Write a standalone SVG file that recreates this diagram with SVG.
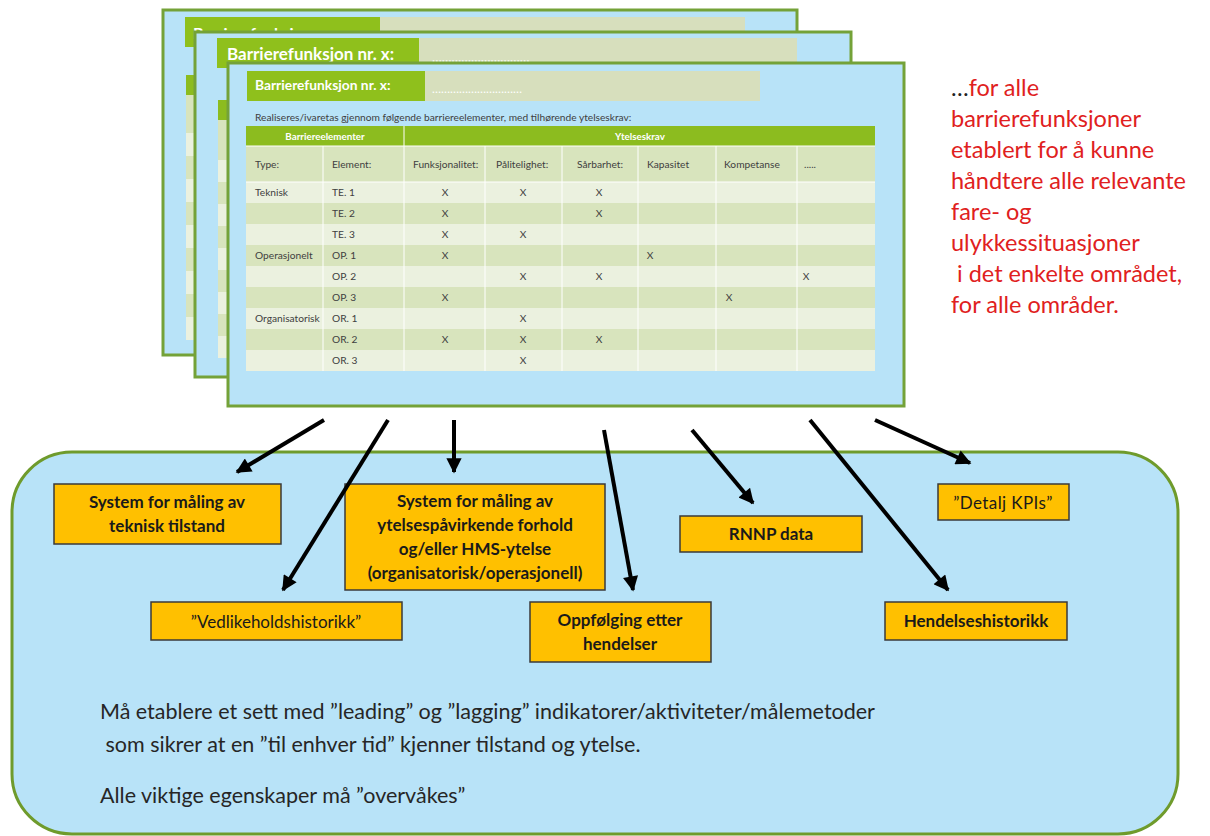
<svg xmlns="http://www.w3.org/2000/svg" width="1210" height="836" viewBox="0 0 1210 836">
<defs>
<marker id="ah" viewBox="0 0 10 10" refX="9" refY="5" markerWidth="4.2" markerHeight="3.8" orient="auto" markerUnits="strokeWidth">
<path d="M0,0 L10,5 L0,10 z" fill="#000"/>
</marker>
<style>
.card{fill:#b8e3f8;stroke:#74a238;stroke-width:3}
.tg{fill:#8fc01c}
.tk{fill:#d7dfbd}
.ttl{font-family:Lato,"Liberation Sans",sans-serif;font-weight:bold;fill:#fff}
.dots{font-family:Lato,"Liberation Sans",sans-serif;fill:#fff}
.hg{fill:#8cbc1f}
.rd{fill:#d8e4bd}
.rl{fill:#ebf1df}
.grid{stroke:#fff;stroke-width:1}
.tt{font-family:Lato,"Liberation Sans",sans-serif;font-size:10.2px;fill:#404040}
.th{font-family:Lato,"Liberation Sans",sans-serif;font-size:9.8px;font-weight:bold;fill:#fff;text-anchor:middle}
.x{text-anchor:middle}
.big{fill:#b8e3f8;stroke:#6f9b2c;stroke-width:3}
.ob{fill:#ffc000;stroke:#3a3a3a;stroke-width:1.5}
.ot{font-family:Lato,"Liberation Sans",sans-serif;font-size:17px;font-weight:bold;fill:#1a1a1a;text-anchor:middle}
.on{font-weight:normal}
.red{font-family:Lato,"Liberation Sans",sans-serif;font-size:23.5px;fill:#e02020}
.bt{font-family:Lato,"Liberation Sans",sans-serif;font-size:21.5px;fill:#262626}
.ar{stroke:#000;stroke-width:4;fill:none;marker-end:url(#ah)}
</style>
</defs>
<rect width="1210" height="836" fill="#fff"/>

<g id="card1">
<rect class="card" x="163" y="10" width="634" height="345"/>
<rect class="tg" x="185" y="17" width="195" height="30"/>
<rect class="tk" x="380" y="17" width="365" height="30"/>
<text class="ttl" x="193" y="39" font-size="16">Barrierefunksjon nr. x:</text>
<rect class="hg" x="186" y="75" width="590" height="20"/>
<rect class="rd" x="186" y="95" width="590" height="38"/>
<rect class="rl" x="186" y="133" width="590" height="23"/>
<rect class="rd" x="186" y="156" width="590" height="23"/>
<rect class="rl" x="186" y="179" width="590" height="23"/>
<rect class="rd" x="186" y="202" width="590" height="23"/>
<rect class="rl" x="186" y="225" width="590" height="23"/>
<rect class="rd" x="186" y="248" width="590" height="23"/>
<rect class="rl" x="186" y="271" width="590" height="23"/>
<rect class="rd" x="186" y="294" width="590" height="23"/>
<rect class="rl" x="186" y="317" width="590" height="23"/>
</g>

<g id="card2">
<rect class="card" x="195" y="32" width="656" height="345"/>
<rect class="tg" x="217" y="38" width="202" height="30"/>
<rect class="tk" x="419" y="38" width="378" height="30"/>
<text class="ttl" x="227" y="60" font-size="17">Barrierefunksjon nr. x:</text>
<text class="dots" x="432" y="62" font-size="13">…………………………</text>
<rect class="hg" x="218" y="100" width="612" height="20"/>
<rect class="rd" x="218" y="120" width="612" height="40"/>
<rect class="rl" x="218" y="160" width="612" height="22"/>
<rect class="rd" x="218" y="182" width="612" height="22"/>
<rect class="rl" x="218" y="204" width="612" height="22"/>
<rect class="rd" x="218" y="226" width="612" height="22"/>
<rect class="rl" x="218" y="248" width="612" height="22"/>
<rect class="rd" x="218" y="270" width="612" height="22"/>
<rect class="rl" x="218" y="292" width="612" height="22"/>
<rect class="rd" x="218" y="314" width="612" height="22"/>
<rect class="rl" x="218" y="336" width="612" height="22"/>
</g>

<g id="card3">
<rect class="card" x="228" y="63" width="676" height="343"/>
<rect class="tg" x="247" y="71" width="178" height="30"/>
<rect class="tk" x="425" y="71" width="335" height="30"/>
<text class="ttl" x="255" y="90" font-size="13.8">Barrierefunksjon nr. x:</text>
<text class="dots" x="432" y="93" font-size="12">…………………………</text>
<text class="tt" x="255" y="121" font-size="12.5">Realiseres/ivaretas gjennom følgende barriereelementer, med tilhørende ytelseskrav:</text>
<rect class="hg" x="246" y="126" width="629" height="20"/>
<rect class="rd" x="246" y="146" width="629" height="36"/>
<rect class="rl" x="246" y="182" width="629" height="21"/>
<rect class="rd" x="246" y="203" width="629" height="21"/>
<rect class="rl" x="246" y="224" width="629" height="21"/>
<rect class="rd" x="246" y="245" width="629" height="21"/>
<rect class="rl" x="246" y="266" width="629" height="21"/>
<rect class="rd" x="246" y="287" width="629" height="21"/>
<rect class="rl" x="246" y="308" width="629" height="21"/>
<rect class="rd" x="246" y="329" width="629" height="21"/>
<rect class="rl" x="246" y="350" width="629" height="21"/>
<g class="grid">
<line x1="404" y1="126" x2="404" y2="371"/>
<line x1="323" y1="146" x2="323" y2="371"/>
<line x1="485" y1="146" x2="485" y2="371"/>
<line x1="562" y1="146" x2="562" y2="371"/>
<line x1="638" y1="146" x2="638" y2="371"/>
<line x1="716" y1="146" x2="716" y2="371"/>
<line x1="797" y1="146" x2="797" y2="371"/>
<line x1="246" y1="146" x2="875" y2="146"/>
<line x1="246" y1="182" x2="875" y2="182"/>
</g>
<text class="th" x="325" y="140">Barriereelementer</text>
<text class="th" x="640" y="140">Ytelseskrav</text>
<g class="tt">
<text x="255" y="168">Type:</text>
<text x="332" y="168">Element:</text>
<text x="413" y="168">Funksjonalitet:</text>
<text x="496" y="168">Pålitelighet:</text>
<text x="577" y="168">Sårbarhet:</text>
<text x="647" y="168">Kapasitet</text>
<text x="724" y="168">Kompetanse</text>
<text x="804" y="168">.....</text>
<text x="255" y="196">Teknisk</text>
<text x="332" y="196">TE. 1</text>
<text x="332" y="217">TE. 2</text>
<text x="332" y="238">TE. 3</text>
<text x="255" y="259">Operasjonelt</text>
<text x="332" y="259">OP. 1</text>
<text x="332" y="280">OP. 2</text>
<text x="332" y="301">OP. 3</text>
<text x="255" y="322">Organisatorisk</text>
<text x="332" y="322">OR. 1</text>
<text x="332" y="343">OR. 2</text>
<text x="332" y="364">OR. 3</text>
<text class="x" x="445" y="196">X</text><text class="x" x="523" y="196">X</text><text class="x" x="599" y="196">X</text>
<text class="x" x="445" y="217">X</text><text class="x" x="599" y="217">X</text>
<text class="x" x="445" y="238">X</text><text class="x" x="523" y="238">X</text>
<text class="x" x="445" y="259">X</text><text class="x" x="650" y="259">X</text>
<text class="x" x="523" y="280">X</text><text class="x" x="599" y="280">X</text><text class="x" x="806" y="280">X</text>
<text class="x" x="445" y="301">X</text><text class="x" x="729" y="301">X</text>
<text class="x" x="523" y="322">X</text>
<text class="x" x="445" y="343">X</text><text class="x" x="523" y="343">X</text><text class="x" x="599" y="343">X</text>
<text class="x" x="523" y="364">X</text>
</g>
</g>

<g id="note">
<text class="red" x="951" y="96"><tspan fill="#222">…</tspan>for alle</text>
<text class="red" x="951" y="127">barrierefunksjoner</text>
<text class="red" x="951" y="158">etablert for å kunne</text>
<text class="red" x="951" y="189">håndtere alle relevante</text>
<text class="red" x="951" y="220">fare- og</text>
<text class="red" x="951" y="251">ulykkessituasjoner</text>
<text class="red" x="951" y="282" xml:space="preserve"> i det enkelte området,</text>
<text class="red" x="951" y="313">for alle områder.</text>
</g>

<g id="panel">
<rect class="big" x="12" y="452" width="1166" height="382" rx="60"/>
<text class="bt" x="100" y="719">Må etablere et sett med ”leading” og ”lagging” indikatorer/aktiviteter/målemetoder</text>
<text class="bt" x="100" y="752" xml:space="preserve"> som sikrer at en ”til enhver tid” kjenner tilstand og ytelse.</text>
<text class="bt" x="100" y="803">Alle viktige egenskaper må ”overvåkes”</text>
</g>

<g id="n1"><rect class="ob" x="54" y="484" width="227" height="60"/>
<text class="ot" x="167" y="508">System for måling av</text><text class="ot" x="167" y="532">teknisk tilstand</text></g>
<g id="n2"><rect class="ob" x="345" y="484" width="260" height="106"/>
<text class="ot" x="475" y="507">System for måling av</text><text class="ot" x="475" y="531">ytelsespåvirkende forhold</text>
<text class="ot" x="475" y="555">og/eller HMS-ytelse</text><text class="ot" x="475" y="579">(organisatorisk/operasjonell)</text></g>
<g id="n3"><rect class="ob" x="680" y="516" width="182" height="36"/>
<text class="ot" x="771" y="540">RNNP data</text></g>
<g id="n4"><rect class="ob" x="938" y="484" width="131" height="36"/>
<text class="ot on" x="1003" y="509" font-size="20" letter-spacing="0.4">”Detalj KPIs”</text></g>
<g id="n5"><rect class="ob" x="151" y="602" width="251" height="38"/>
<text class="ot on" x="276" y="628" font-size="18.5">”Vedlikeholdshistorikk”</text></g>
<g id="n6"><rect class="ob" x="530" y="602" width="181" height="60"/>
<text class="ot" x="620" y="626">Oppfølging etter</text><text class="ot" x="620" y="650">hendelser</text></g>
<g id="n7"><rect class="ob" x="885" y="602" width="182" height="38"/>
<text class="ot" x="976" y="627">Hendelseshistorikk</text></g>

<g id="connectors">
<line class="ar" x1="324" y1="420" x2="237" y2="472"/>
<line class="ar" x1="388" y1="420" x2="283" y2="590"/>
<line class="ar" x1="454" y1="420" x2="454" y2="472"/>
<line class="ar" x1="604" y1="430" x2="633" y2="590"/>
<line class="ar" x1="692" y1="430" x2="753" y2="503"/>
<line class="ar" x1="810" y1="420" x2="948" y2="590"/>
<line class="ar" x1="875" y1="420" x2="970" y2="463"/>
</g>
</svg>
